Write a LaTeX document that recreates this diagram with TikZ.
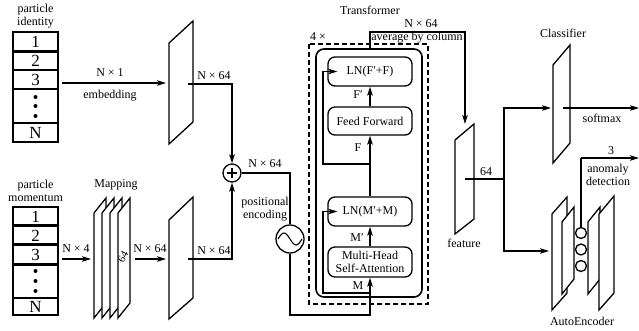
\documentclass[tikz,border=0pt]{standalone}
\usepackage{fontspec}
\setmainfont{Liberation Serif}
\usetikzlibrary{arrows.meta,calc}
\begin{document}
\begin{tikzpicture}[x=1pt,y=-1pt,
  line width=1.3pt,
  arr/.style={-{Stealth[length=9pt,width=5.5pt,inset=2pt]}},
  lbl/.style={font=\fontsize{12}{13}\selectfont, inner sep=0pt},
  cellnum/.style={font=\fontsize{17}{17}\selectfont, inner sep=0pt},
  plate/.style={draw, fill=white, line width=1.3pt, line join=miter},
  blk/.style={draw, rounded corners=7pt, minimum width=84pt, inner sep=1pt, align=center, font=\fontsize{12}{13}\selectfont, line width=1.3pt},
  stack/.style={line width=2.6pt},
  dot/.style={fill, circle, inner sep=0pt, minimum size=4pt}
]
\useasboundingbox (0,0) rectangle (639,330);

% ---------- input stacks ----------
\node[lbl, align=center] (idlbl) at (35.5,16) {particle\\identity};
\draw[stack] (13,32) rectangle (58,142);
\foreach \yy in {51.5,70,89,123} \draw[stack] (13,\yy) -- (58,\yy);
\node[cellnum] (id1) at (35.5,42) {1};
\node[cellnum] (id2) at (35.5,61) {2};
\node[cellnum] (id3) at (35.5,80) {3};
\node[cellnum] (idN) at (35.5,133) {N};
\node[dot] (idd1) at (35.5,97) {};
\node[dot] (idd2) at (35.5,106) {};
\node[dot] (idd3) at (35.5,116) {};

\node[lbl, align=center] (momlbl) at (35.5,191) {particle\\momentum};
\draw[stack] (13,207) rectangle (58,315);
\foreach \yy in {225.5,244.5,264.5,298} \draw[stack] (13,\yy) -- (58,\yy);
\node[cellnum] (m1) at (35.5,216.5) {1};
\node[cellnum] (m2) at (35.5,235.5) {2};
\node[cellnum] (m3) at (35.5,255) {3};
\node[cellnum] (mN) at (35.5,307) {N};
\node[dot] (md1) at (35.5,271) {};
\node[dot] (md2) at (35.5,281) {};
\node[dot] (md3) at (35.5,291) {};

% ---------- embedding (upper) ----------
\coordinate (idout) at (62,83);
\coordinate (embin) at (166,83);
\draw[arr] (idout) -- (embin);
\node[lbl] (n1) at (110,73) {N × 1};
\node[lbl] (emb) at (110,96) {embedding};
\draw[plate] (169,43) -- (193,21) -- (193,122) -- (169,144) -- cycle;

% ---------- mapping (lower) ----------
\node[lbl] (maplbl) at (116,185) {Mapping};
\coordinate (momout) at (62,259);
\coordinate (mapin) at (91,259);
\draw[arr] (momout) -- (mapin);
\node[lbl] (n4) at (76,249) {N × 4};
\foreach \i in {0,1,2,3} {
  \draw[plate] (94+8*\i,213) -- (106+8*\i,198) -- (106+8*\i,303) -- (94+8*\i,318) -- cycle;
}
\node[lbl, rotate=62, font=\fontsize{11}{11}\selectfont] (six4) at (123,257) {64};
\coordinate (mapout) at (135,259);
\coordinate (emb2in) at (166,259);
\draw[arr] (mapout) -- (emb2in);
\node[lbl] (n64a) at (150,249) {N × 64};
\draw[plate] (169,220) -- (193,197) -- (193,298) -- (169,319) -- cycle;

% ---------- sum and positional encoding ----------
\node[draw, circle, minimum size=18pt, inner sep=0pt, line width=1.3pt] (plus) at (232,173) {};
\draw[line width=1.1pt] (227,173) -- (237,173) (232,168) -- (232,178);
\coordinate (e1out) at (188,84);
\coordinate (e2out) at (188,259);
\draw[arr] (e1out) -| (plus.north);
\draw[arr] (e2out) -| (plus.south);
\node[lbl] (n64b) at (214,76) {N × 64};
\node[lbl] (n64c) at (214,251) {N × 64};
\node[lbl] (n64d) at (265,164) {N × 64};

\node[draw, circle, minimum size=28pt, inner sep=0pt, line width=1.3pt] (sine) at (290,239) {};
\draw[line width=1.1pt] (278,239) sin (284,233) cos (290,239) sin (296,245) cos (302,239);
\draw (plus.east) -| (sine.north);
\node[lbl, align=center] (pe) at (265,209) {positional\\encoding};

% ---------- transformer ----------
\node[lbl] (trlbl) at (370,10) {Transformer};
\node[lbl] (four) at (318,37) {4 ×};
\draw[dashed, line width=1.4pt, dash pattern=on 5pt off 3pt] (309,44) rectangle (428,304);
\draw[rounded corners=8pt, line width=1.6pt] (316,49) rectangle (422,297);

\node[blk, minimum height=29pt] (LNF) at (370,71.5) {LN(F′+F)};
\node[blk, minimum height=28pt] (FF) at (370,121) {Feed Forward};
\node[blk, minimum height=29pt] (LNM) at (370,211.5) {LN(M′+M)};
\node[blk, minimum height=30pt, font=\fontsize{12}{12.5}\selectfont] (MHA) at (370,262) {Multi-Head\\Self-Attention};

\draw[arr] (FF.north) -- (LNF.south);
\node[lbl] (fp) at (358,95) {F′};
\draw[arr] (LNM.north) -- (FF.south);
\node[lbl] (f) at (358,148) {F};
\coordinate (rf) at (370,164);
\draw[arr] (rf) -- (323,164) |- ([xshift=10pt]LNF.west);

\draw[arr] (MHA.north) -- (LNM.south);
\node[lbl] (mp) at (357,238) {M′};
\coordinate (rm) at (370,293);
\draw[arr] (rm) -- (323,293) |- ([xshift=10pt]LNM.west);

\coordinate (mlow) at (290,315);
\draw[arr] (sine.south) -- (mlow) -| (MHA.south);
\node[lbl] (m) at (358,286) {M};

% ---------- output of transformer ----------
\coordinate (trtop) at (370,49);
\coordinate (featin) at (465,124);
\draw[arr] (trtop) -- (370,32) -| (featin);
\node[lbl] (n64e) at (421,24) {N × 64};
\node[lbl] (avg) at (417,38) {average by column};

\draw[plate] (455,140) -- (474,124) -- (474,219) -- (455,234) -- cycle;
\node[lbl] (feat) at (464,243) {feature};

\coordinate (featout) at (465,179);
\coordinate (split) at (504,179);
\draw (featout) -- (split);
\node[lbl] (s64) at (486,172) {64};
\coordinate (cin) at (551,108);
\coordinate (ain) at (549,251);
\draw[arr] (split) |- (cin);
\draw[arr] (split) |- (ain);

% ---------- classifier ----------
\node[lbl] (cls) at (563,33) {Classifier};
\draw[plate] (553,65) -- (570,45) -- (570,143) -- (553,163) -- cycle;
\coordinate (cout) at (563,108);
\coordinate (smend) at (639,108);
\draw[arr] (cout) -- (smend);
\node[lbl] (sm) at (602,118) {softmax};

% ---------- autoencoder ----------
\draw[plate] (552,214) -- (567,197) -- (567,293) -- (552,310) -- cycle;
\draw[plate] (562,222) -- (574,207) -- (574,279) -- (562,294) -- cycle;
\draw[plate] (588,222) -- (600,207) -- (600,279) -- (588,294) -- cycle;
\draw[plate] (599,214) -- (614,196) -- (614,293) -- (599,310) -- cycle;
\node[draw, circle, minimum size=11pt, inner sep=0pt, line width=1.3pt] (c1) at (581,233) {};
\node[draw, circle, minimum size=11pt, inner sep=0pt, line width=1.3pt] (c2) at (581,249.5) {};
\node[draw, circle, minimum size=11pt, inner sep=0pt, line width=1.3pt] (c3) at (581,266) {};
\coordinate (aout) at (581,158);
\coordinate (aend) at (639,158);
\draw (c1.north) -- (aout);
\draw[arr] (aout) -- (aend);
\node[lbl] (three) at (611,151) {3};
\node[lbl, align=center] (anom) at (608,175) {anomaly\\detection};
\node[lbl] (ae) at (582,321) {AutoEncoder};
\end{tikzpicture}
\end{document}
